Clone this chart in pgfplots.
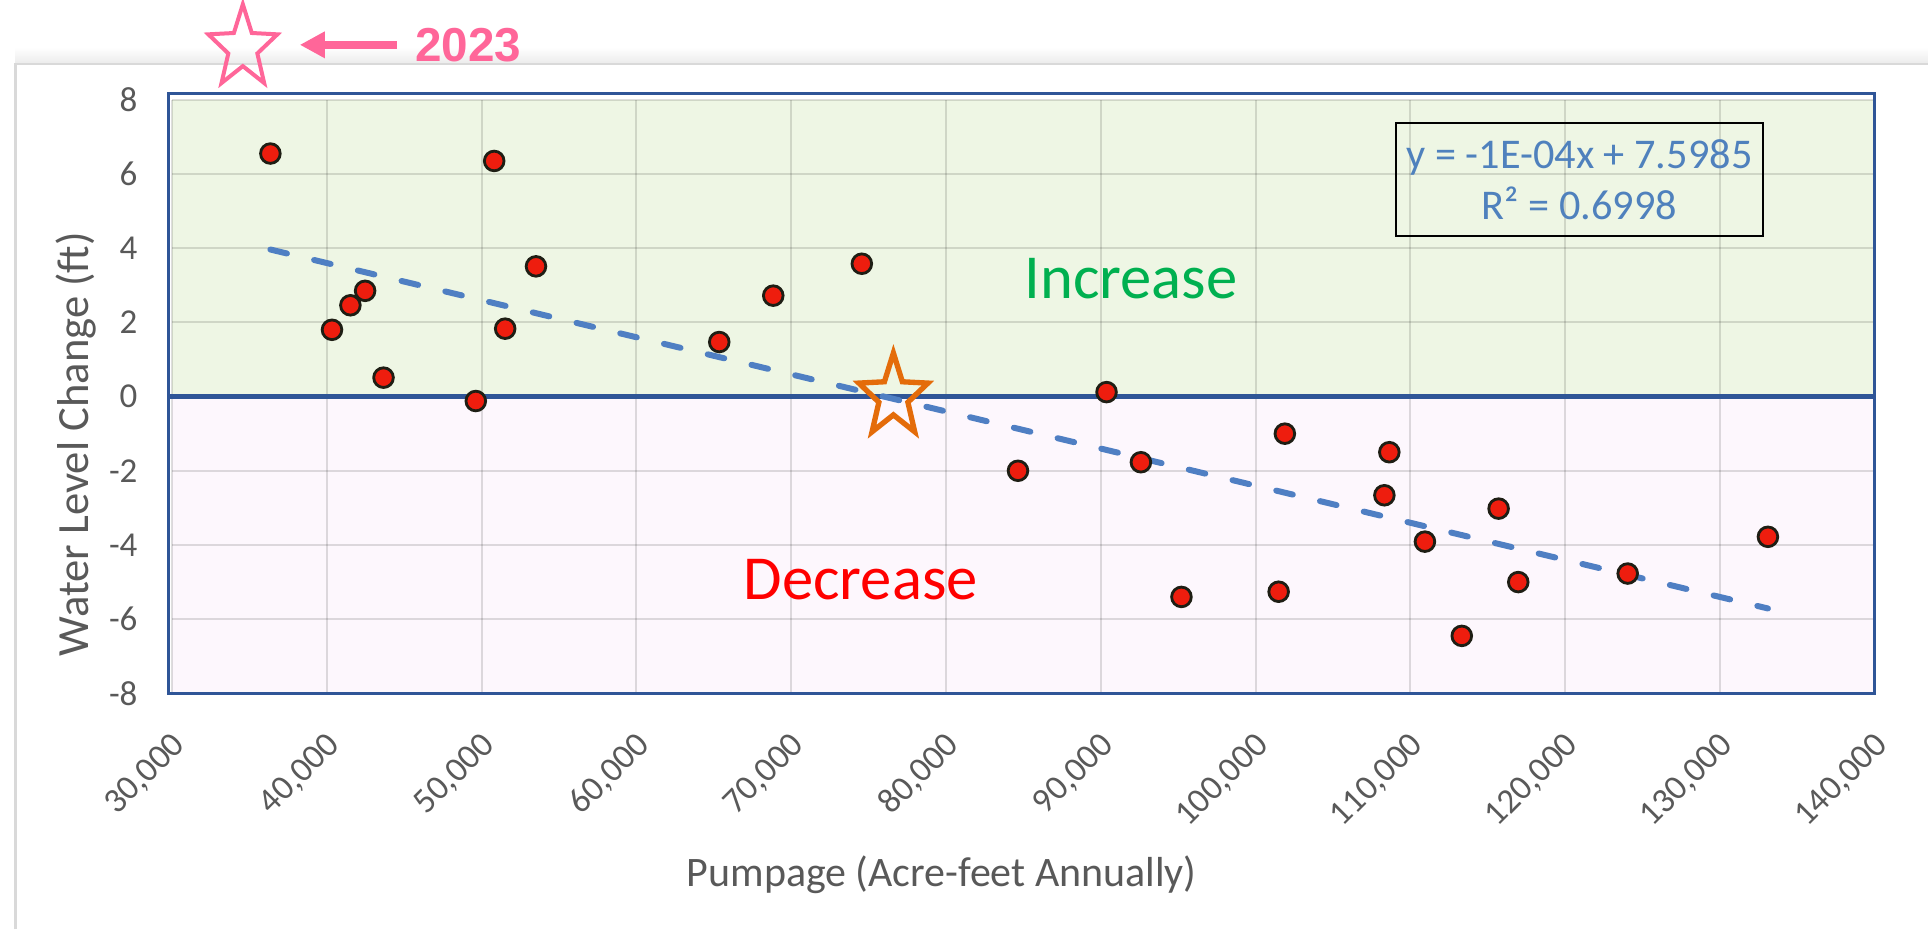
\documentclass[border=0pt]{standalone}
\usepackage{fontspec}
\setmainfont{Carlito}
\newfontfamily\arialfont{Liberation Sans}
\usepackage{pgfplots}
\pgfplotsset{compat=1.18}
\usetikzlibrary{arrows.meta}

\definecolor{gfill}{HTML}{EEF6E4}
\definecolor{pfill}{HTML}{FDF7FD}
\definecolor{bordblue}{HTML}{2F5597}
\definecolor{dotred}{HTML}{EE1D0E}
\definecolor{dotedge}{HTML}{1E1E14}
\definecolor{trendblue}{HTML}{4F7FC3}
\definecolor{eqblue}{HTML}{4F81BD}
\definecolor{incgreen}{HTML}{00B050}
\definecolor{decred}{HTML}{FF0000}
\definecolor{tickgray}{HTML}{595959}
\definecolor{starorange}{HTML}{E46C0A}
\definecolor{starpink}{HTML}{FF6699}
\definecolor{framegray}{HTML}{D9D9D9}

\pgfdeclareplotmark{fivestar}{%
  \pgfpathmoveto{\pgfpoint{0pt}{\pgfplotmarksize}}%
  \pgfpathlineto{\pgfpoint{-0.2469\pgfplotmarksize}{0.3398\pgfplotmarksize}}%
  \pgfpathlineto{\pgfpoint{-0.9511\pgfplotmarksize}{0.3090\pgfplotmarksize}}%
  \pgfpathlineto{\pgfpoint{-0.3995\pgfplotmarksize}{-0.1298\pgfplotmarksize}}%
  \pgfpathlineto{\pgfpoint{-0.5878\pgfplotmarksize}{-0.8090\pgfplotmarksize}}%
  \pgfpathlineto{\pgfpoint{0pt}{-0.42\pgfplotmarksize}}%
  \pgfpathlineto{\pgfpoint{0.5878\pgfplotmarksize}{-0.8090\pgfplotmarksize}}%
  \pgfpathlineto{\pgfpoint{0.3995\pgfplotmarksize}{-0.1298\pgfplotmarksize}}%
  \pgfpathlineto{\pgfpoint{0.9511\pgfplotmarksize}{0.3090\pgfplotmarksize}}%
  \pgfpathlineto{\pgfpoint{0.2469\pgfplotmarksize}{0.3398\pgfplotmarksize}}%
  \pgfpathclose
  \pgfusepathqstroke
}

\pgfplotstableread{
x y
36350 6.55
40330 1.80
41520 2.46
42470 2.85
43660 0.51
49620 -0.12
50810 6.35
51520 1.83
53510 3.51
65350 1.47
68840 2.72
74560 3.58
84650 -2.00
90370 0.12
92590 -1.77
95210 -5.40
101490 -5.26
101890 -1.00
108320 -2.66
108640 -1.50
110940 -3.91
113320 -6.45
115700 -3.02
116970 -5.00
124040 -4.77
133100 -3.78
}\pumpdata

\begin{document}
\begin{tikzpicture}
\path (-51.66pt,-70.86pt) rectangle (527.04pt,208.14pt);
% card frame
\shade[top color=white, bottom color=black!8] (-47pt,188.9pt) rectangle (527.04pt,194pt);
\draw[framegray, line width=0.7pt] (-47pt,-70.86pt) -- (-47pt,188.9pt) -- (527.04pt,188.9pt);
\begin{axis}[
  at={(0,0)}, anchor=south west,
  scale only axis, width=511.1pt, height=178.2pt,
  xmin=30000, xmax=140000, ymin=-8, ymax=8,
  scaled x ticks=false, scaled y ticks=false,
  xtick={30000,40000,50000,60000,70000,80000,90000,100000,110000,120000,130000,140000},
  xticklabels={{30,000},{40,000},{50,000},{60,000},{70,000},{80,000},{90,000},{100,000},{110,000},{120,000},{130,000},{140,000}},
  ytick={-8,-6,-4,-2,0,2,4,6,8},
  yticklabels={-8,-6,-4,-2,0,2,4,6,8},
  set layers, clip=false,
  grid=major,
  major grid style={black, opacity=0.13, line width=0.6pt},
  axis line style={draw=none},
  major tick length=0pt,
  tick style={draw=none},
  tick label style={font=\fontsize{10.5}{12}\selectfont, text=tickgray},
  xticklabel style={xshift=2.4pt, yshift=-13.9pt, rotate=45, anchor=east, inner sep=0pt},
  yticklabel style={anchor=east, inner sep=0pt, xshift=-10.2pt},
  xlabel={Pumpage (Acre-feet Annually)},
  ylabel={Water Level Change (ft)},
  xlabel style={at={(axis description cs:0.452,-0.305)}, anchor=center,
                font=\fontsize{12.6}{14}\selectfont, text=tickgray},
  ylabel style={at={(axis description cs:-0.0562,0.42)}, anchor=center,
                font=\fontsize{13.4}{15}\selectfont, text=tickgray},
]
\addplot[fill=gfill, draw=none, on layer=axis background]
  coordinates {(30000,0) (140000,0) (140000,8) (30000,8)} -- cycle;
\addplot[fill=pfill, draw=none, on layer=axis background]
  coordinates {(30000,-8) (140000,-8) (140000,0) (30000,0)} -- cycle;
\draw[bordblue, line width=0.9pt] ([xshift=-1.2pt]axis cs:30000,0) rectangle ([yshift=2pt]axis cs:140000,8);
\draw[bordblue, line width=0.9pt] ([xshift=-1.2pt]axis cs:30000,-8) rectangle (axis cs:140000,0);
\draw[bordblue, line width=1.6pt] ([xshift=-1.2pt]axis cs:30000,0) -- (axis cs:140000,0);

\node[text=incgreen, font=\fontsize{18.8}{20}\selectfont] at (axis cs:91950,3.17) {Increase};
\node[text=decred, font=\fontsize{18.8}{20}\selectfont] at (axis cs:74480,-4.94) {Decrease};
\node[draw=black, line width=0.6pt, minimum width=110.3pt, minimum height=34pt, inner sep=0pt,
      align=center, text=eqblue, font=\fontsize{12.7}{15.5}\selectfont] at (axis cs:120919,5.845)
      {y = -1E-04x + 7.5985\\R² = 0.6998};

\addplot[trendblue, line width=1.8pt, dash pattern=on 5.1pt off 8.4pt, line cap=round]
  coordinates {(36350,3.9635) (133100,-5.7115)};

\addplot[only marks, mark=*, mark size=2.95pt,
  mark options={fill=dotred, draw=dotedge, line width=0.85pt}] table[x=x, y=y] {\pumpdata};

\addplot[only marks, mark=fivestar, mark size=10.9pt,
  mark options={draw=starorange, line width=1.6pt, line join=miter, miter limit=10, yscale=1.2}]
  coordinates {(76600,0)};

% 2023 annotation
\addplot[only marks, mark=fivestar, mark size=10.9pt,
  mark options={draw=starpink, line width=1.2pt, line join=miter, miter limit=10, yscale=1.2}]
  coordinates {(34571,9.40)};
\draw[starpink, line width=2.3pt, -{Triangle[length=7.5pt, width=7.5pt]}]
  (axis cs:44513,9.48) -- (axis cs:38251,9.48);
\node[text=starpink, font=\arialfont\bfseries\fontsize{14.3}{16}\selectfont] at (axis cs:49129,9.47) {2023};
\end{axis}
\end{tikzpicture}
\end{document}
